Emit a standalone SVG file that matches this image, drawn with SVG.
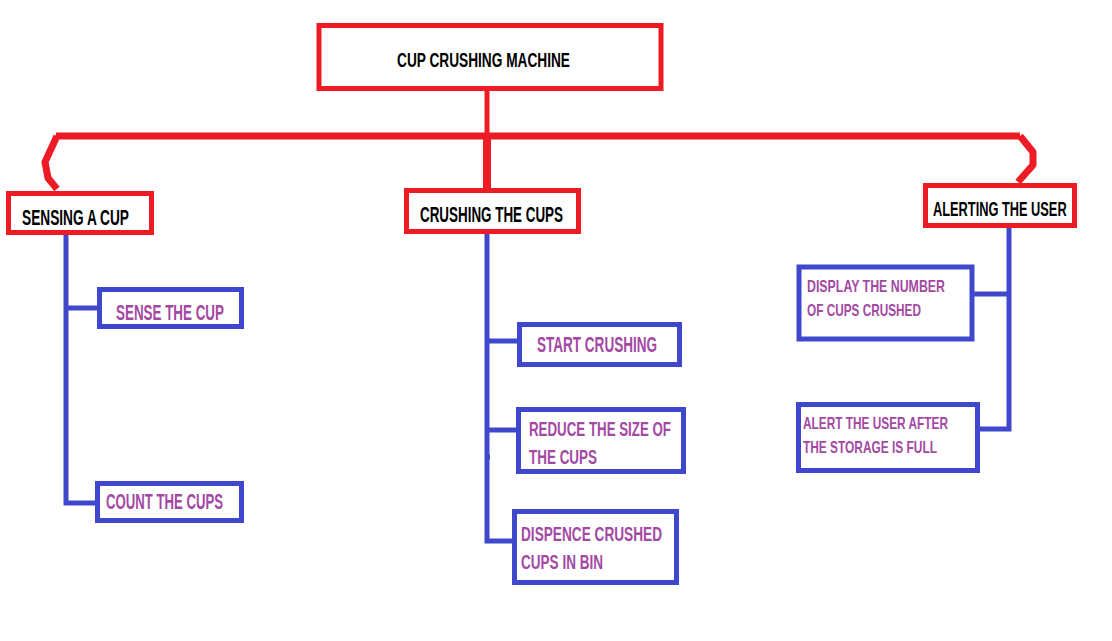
<svg xmlns="http://www.w3.org/2000/svg" width="1112" height="641" viewBox="0 0 1112 641">
<style>
.rbox{fill:#fff;stroke:#ED1C24;stroke-width:5}
.bbox{fill:#fff;stroke:#3F48CC;stroke-width:5}
.rl{fill:none;stroke:#ED1C24;stroke-linejoin:round}
.bl{fill:none;stroke:#3F48CC;stroke-width:5}
.t{font-family:"Liberation Sans",Arial,sans-serif;font-weight:bold}
.k{fill:#000}
.p{fill:#A349A4}
</style>
<rect width="1112" height="641" fill="#fff"/>
<g id="connectors">
<path class="rl" stroke-width="5" d="M487 91V136"/>
<path class="rl" stroke-width="7" d="M56 136H1020"/>
<path class="rl" stroke-width="8" d="M487 136V188"/>
<path class="rl" stroke-width="7" d="M57 136L45 162L48 178L57 189"/>
<path class="rl" stroke-width="7" d="M1020 136L1033 152L1033 165L1018 182"/>
<path class="bl" d="M66 234V503H95M66 308H97"/>
<path class="bl" d="M487 234V541H512M487 341H517M487 430H516M487 457H490"/>
<path class="bl" d="M1009 228V429H980M1009 294H974"/>
</g>
<g id="n-main">
<rect class="rbox" x="319" y="25.5" width="342" height="63" stroke-width="6"/>
<text class="t k" x="397" y="67" font-size="21" textLength="173" lengthAdjust="spacingAndGlyphs">CUP CRUSHING MACHINE</text>
</g>
<g id="n-sensing">
<rect class="rbox" x="8.5" y="193.5" width="143" height="39"/>
<text class="t k" x="22" y="225" font-size="22" textLength="107" lengthAdjust="spacingAndGlyphs">SENSING A CUP</text>
</g>
<g id="n-crushing">
<rect class="rbox" x="406.5" y="190.5" width="172" height="41"/>
<text class="t k" x="420" y="222" font-size="22" textLength="143" lengthAdjust="spacingAndGlyphs">CRUSHING THE CUPS</text>
</g>
<g id="n-alerting">
<rect class="rbox" x="925.5" y="185.5" width="149" height="40"/>
<text class="t k" transform="translate(933 216) scale(0.64 1)" x="0" y="0" font-size="20">ALERTING THE USER</text>
</g>
<g id="n-sense">
<rect class="bbox" x="99.5" y="289.5" width="142" height="37"/>
<text class="t p" x="116" y="320" font-size="22" textLength="108" lengthAdjust="spacingAndGlyphs">SENSE THE CUP</text>
</g>
<g id="n-count">
<rect class="bbox" x="97.5" y="483.5" width="144" height="37"/>
<text class="t p" x="106" y="509" font-size="22" textLength="117" lengthAdjust="spacingAndGlyphs">COUNT THE CUPS</text>
</g>
<g id="n-start">
<rect class="bbox" x="519.5" y="324.5" width="160" height="40"/>
<text class="t p" x="537" y="352" font-size="22" textLength="120" lengthAdjust="spacingAndGlyphs">START CRUSHING</text>
</g>
<g id="n-reduce">
<rect class="bbox" x="518.5" y="409.5" width="165" height="62"/>
<text class="t p" x="529" y="436" font-size="20" textLength="142" lengthAdjust="spacingAndGlyphs">REDUCE THE SIZE OF</text>
<text class="t p" x="529" y="464" font-size="20" textLength="68" lengthAdjust="spacingAndGlyphs">THE CUPS</text>
</g>
<g id="n-dispence">
<rect class="bbox" x="514.5" y="511.5" width="162" height="71"/>
<text class="t p" x="521" y="541" font-size="21" textLength="141" lengthAdjust="spacingAndGlyphs">DISPENCE CRUSHED</text>
<text class="t p" x="521" y="569" font-size="21" textLength="82" lengthAdjust="spacingAndGlyphs">CUPS IN BIN</text>
</g>
<g id="n-display">
<rect class="bbox" x="799" y="267" width="173" height="72" stroke-width="4.5"/>
<text class="t p" x="807" y="292" font-size="17" textLength="138" lengthAdjust="spacingAndGlyphs">DISPLAY  THE NUMBER</text>
<text class="t p" x="807" y="316" font-size="17" textLength="114" lengthAdjust="spacingAndGlyphs">OF CUPS CRUSHED</text>
</g>
<g id="n-alert">
<rect class="bbox" x="798.5" y="404.5" width="179" height="66"/>
<text class="t p" x="803" y="429" font-size="17" textLength="145" lengthAdjust="spacingAndGlyphs">ALERT THE USER AFTER</text>
<text class="t p" x="803" y="453" font-size="17" textLength="134" lengthAdjust="spacingAndGlyphs">THE STORAGE IS FULL</text>
</g>
</svg>
